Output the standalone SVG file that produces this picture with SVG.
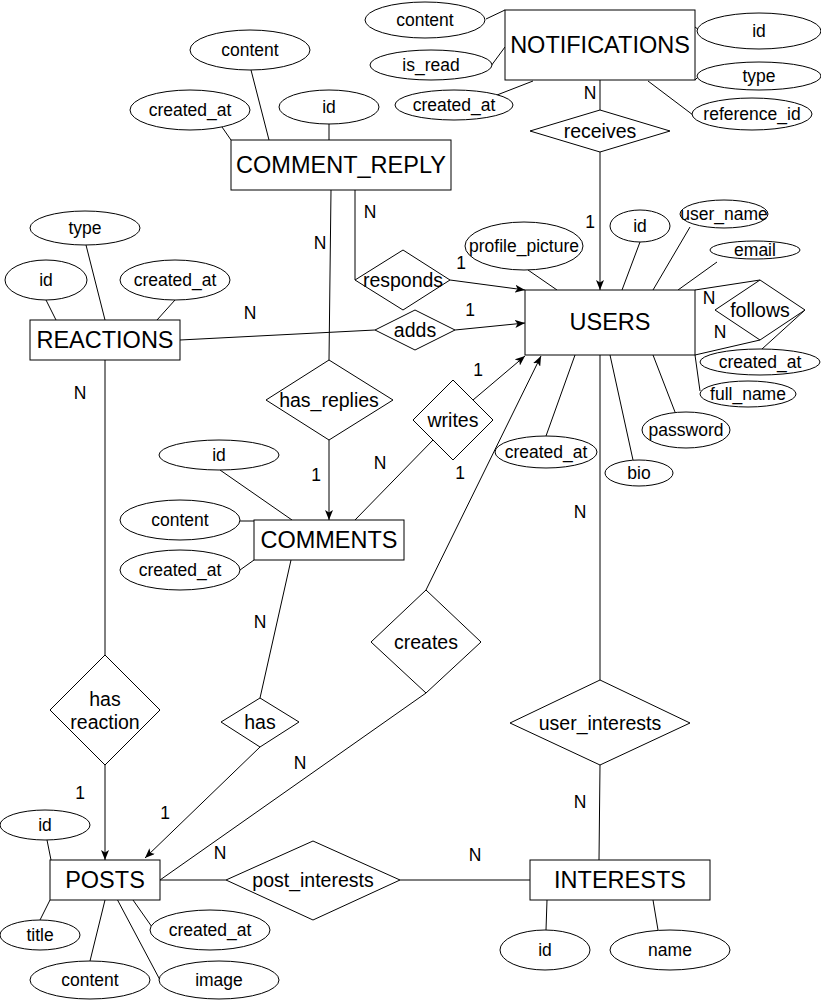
<svg xmlns="http://www.w3.org/2000/svg" width="821" height="1001" viewBox="0 0 821 1001">
<style>
text{font-family:"Liberation Sans",Arial,sans-serif;fill:#000;text-anchor:middle;dominant-baseline:central}
.ent rect{fill:#fff;stroke:#000;stroke-width:1}
.ent text{font-size:23.5px}
.att ellipse{fill:#fff;stroke:#000;stroke-width:1}
.att text{font-size:17.5px}
.rel polygon{fill:#fff;stroke:#000;stroke-width:1}
.rel text{font-size:19.5px}
#connectors line,#connectors polyline{stroke:#000;stroke-width:1;fill:none}
.arr{marker-end:url(#ah)}
.card{font-size:17.5px}
</style>
<defs>
<marker id="ah" markerUnits="userSpaceOnUse" markerWidth="10" markerHeight="8" viewBox="0 0 10 8" refX="10" refY="4" orient="auto">
<path d="M0,0 L10,4 L0,8 L2.5,4 z" fill="#000"/>
</marker>
</defs>
<rect width="821" height="1001" fill="#fff"/>

<g id="connectors">
<!-- notifications attrs -->
<line x1="486" y1="19" x2="505" y2="10"/>
<line x1="491" y1="66" x2="505" y2="47"/>
<line x1="497" y1="95" x2="533" y2="81"/>
<line x1="695" y1="27" x2="699" y2="30"/>
<line x1="695" y1="80" x2="699" y2="76"/>
<line x1="648" y1="81" x2="693" y2="115"/>
<!-- comment reply attrs -->
<line x1="251" y1="70" x2="269" y2="140"/>
<line x1="222" y1="127" x2="231" y2="140"/>
<line x1="329" y1="124" x2="329" y2="140"/>
<!-- users attrs -->
<line x1="528" y1="270" x2="557" y2="290"/>
<line x1="640" y1="242" x2="622" y2="290"/>
<line x1="690" y1="227" x2="653" y2="290"/>
<line x1="717" y1="262" x2="678" y2="290"/>
<line x1="675" y1="412" x2="653" y2="355"/>
<line x1="633" y1="460" x2="610" y2="355"/>
<line x1="546" y1="436" x2="575" y2="355"/>
<line x1="700" y1="391" x2="695" y2="355"/>
<line x1="805" y1="310" x2="762" y2="349"/>
<!-- follows -->
<line x1="695" y1="290" x2="760" y2="280"/>
<line x1="695" y1="355" x2="760" y2="340"/>
<!-- receives -->
<line x1="600" y1="80" x2="600" y2="110"/>
<line class="arr" x1="600" y1="152" x2="600" y2="290"/>
<!-- reactions attrs -->
<line x1="86" y1="245" x2="105" y2="320"/>
<line x1="46" y1="300" x2="56" y2="320"/>
<line x1="175" y1="300" x2="157" y2="320"/>
<!-- adds -->
<line x1="180" y1="340" x2="375" y2="330"/>
<line class="arr" x1="455" y1="330" x2="525" y2="323"/>
<!-- responds -->
<polyline points="355,190 355,280"/>
<line class="arr" x1="450" y1="280" x2="525" y2="290"/>
<!-- has_replies -->
<line x1="331" y1="190" x2="329" y2="360"/>
<line class="arr" x1="329" y1="440" x2="329" y2="520"/>
<!-- writes -->
<line x1="355" y1="520" x2="433" y2="440"/>
<line class="arr" x1="473" y1="400" x2="525" y2="356"/>
<!-- comments attrs -->
<line x1="220" y1="470" x2="292" y2="520"/>
<line x1="240" y1="521" x2="254" y2="521"/>
<line x1="240" y1="570" x2="254" y2="560"/>
<!-- has -->
<line x1="291" y1="560" x2="260" y2="698"/>
<line class="arr" x1="260" y1="747" x2="145" y2="858"/>
<!-- creates -->
<line class="arr" x1="426" y1="590" x2="541" y2="356"/>
<line x1="426" y1="693" x2="160" y2="880"/>
<!-- has reaction -->
<line x1="105" y1="360" x2="105" y2="655"/>
<line class="arr" x1="105" y1="765" x2="105" y2="860"/>
<!-- posts attrs -->
<line x1="47" y1="840" x2="51" y2="860"/>
<line x1="50" y1="900" x2="40" y2="920"/>
<line x1="105" y1="900" x2="90" y2="961"/>
<line x1="117" y1="899" x2="160" y2="980"/>
<line x1="133" y1="900" x2="152" y2="927"/>
<!-- post_interests -->
<line x1="160" y1="880" x2="226" y2="880"/>
<line x1="400" y1="880" x2="530" y2="880"/>
<!-- user_interests -->
<line x1="600" y1="355" x2="600" y2="680"/>
<line x1="600" y1="765" x2="599" y2="860"/>
<!-- interests attrs -->
<line x1="547" y1="900" x2="546" y2="930"/>
<line x1="653" y1="900" x2="658" y2="930"/>
</g>

<g id="cardinalities" class="card">
<text class="card" x="590" y="93">N</text>
<text class="card" x="590" y="222">1</text>
<text class="card" x="370" y="212">N</text>
<text class="card" x="320" y="243">N</text>
<text class="card" x="461" y="263">1</text>
<text class="card" x="470" y="310">1</text>
<text class="card" x="250" y="313">N</text>
<text class="card" x="709" y="298">N</text>
<text class="card" x="720" y="332">N</text>
<text class="card" x="478" y="370">1</text>
<text class="card" x="380" y="463">N</text>
<text class="card" x="460" y="473">1</text>
<text class="card" x="316" y="475">1</text>
<text class="card" x="80" y="393">N</text>
<text class="card" x="580" y="512">N</text>
<text class="card" x="260" y="622">N</text>
<text class="card" x="300" y="763">N</text>
<text class="card" x="80" y="793">1</text>
<text class="card" x="165" y="813">1</text>
<text class="card" x="580" y="802">N</text>
<text class="card" x="220" y="853">N</text>
<text class="card" x="475" y="855">N</text>
</g>

<!-- entities -->
<g id="notifications" class="ent"><rect x="505" y="10" width="190" height="70"/><text x="600" y="45">NOTIFICATIONS</text></g>
<g id="comment_reply" class="ent"><rect x="231" y="140" width="220" height="50"/><text x="341" y="165">COMMENT_REPLY</text></g>
<g id="users" class="ent"><rect x="525" y="290" width="170" height="65"/><text x="610" y="322">USERS</text></g>
<g id="reactions" class="ent"><rect x="30" y="320" width="150" height="40"/><text x="105" y="340">REACTIONS</text></g>
<g id="comments" class="ent"><rect x="254" y="520" width="150" height="40"/><text x="329" y="540">COMMENTS</text></g>
<g id="posts" class="ent"><rect x="50" y="860" width="110" height="40"/><text x="105" y="880">POSTS</text></g>
<g id="interests" class="ent"><rect x="530" y="860" width="180" height="40"/><text x="620" y="880">INTERESTS</text></g>

<!-- relationships -->
<g id="receives" class="rel"><polygon points="600,110 670,131 600,152 530,131"/><text x="600" y="131">receives</text></g>
<g id="follows" class="rel"><polygon points="760,280 805,310 760,340 715,310"/><text x="760" y="310">follows</text></g>
<g id="adds" class="rel"><polygon points="375,330 415,310 455,330 415,350"/><text x="415" y="330">adds</text></g>
<g id="responds" class="rel"><polygon points="355,280 403,250 450,280 403,310"/><text x="403" y="280">responds</text></g>
<g id="has_replies" class="rel"><polygon points="266,400 329,360 393,400 329,440"/><text x="329" y="400">has_replies</text></g>
<g id="writes" class="rel"><polygon points="413,420 453,380 493,420 453,460"/><text x="453" y="420">writes</text></g>
<g id="has" class="rel"><polygon points="221,722 260,698 299,722 260,747"/><text x="260" y="722">has</text></g>
<g id="creates" class="rel"><polygon points="371,642 426,590 481,642 426,693"/><text x="426" y="642">creates</text></g>
<g id="has_reaction" class="rel"><polygon points="50,710 105,655 160,710 105,765"/><text x="105" y="699">has</text><text x="105" y="722">reaction</text></g>
<g id="post_interests" class="rel"><polygon points="226,880 313,841 400,880 313,920"/><text x="313" y="880">post_interests</text></g>
<g id="user_interests" class="rel"><polygon points="510,723 600,680 690,723 600,765"/><text x="600" y="723">user_interests</text></g>

<!-- attributes -->
<g id="notif_content" class="att"><ellipse cx="425" cy="20" rx="60" ry="18"/><text x="425" y="20">content</text></g>
<g id="notif_is_read" class="att"><ellipse cx="431" cy="65" rx="61" ry="15"/><text x="431" y="65">is_read</text></g>
<g id="notif_created_at" class="att"><ellipse cx="454" cy="105" rx="59" ry="15"/><text x="454" y="105">created_at</text></g>
<g id="notif_id" class="att"><ellipse cx="759" cy="31" rx="62" ry="18"/><text x="759" y="31">id</text></g>
<g id="notif_type" class="att"><ellipse cx="759" cy="76" rx="62" ry="14"/><text x="759" y="76">type</text></g>
<g id="notif_reference_id" class="att"><ellipse cx="752" cy="114" rx="60" ry="16"/><text x="752" y="114">reference_id</text></g>

<g id="cr_content" class="att"><ellipse cx="250" cy="50" rx="60" ry="20"/><text x="250" y="50">content</text></g>
<g id="cr_created_at" class="att"><ellipse cx="190" cy="110" rx="60" ry="20"/><text x="190" y="110">created_at</text></g>
<g id="cr_id" class="att"><ellipse cx="329" cy="107" rx="50" ry="17"/><text x="329" y="107">id</text></g>

<g id="user_profile_picture" class="att"><ellipse cx="524" cy="246" rx="59" ry="24"/><text x="524" y="246">profile_picture</text></g>
<g id="user_id" class="att"><ellipse cx="640" cy="226" rx="30" ry="16"/><text x="640" y="226">id</text></g>
<g id="user_user_name" class="att"><ellipse cx="724" cy="214" rx="44" ry="14"/><text x="724" y="214">user_name</text></g>
<g id="user_email" class="att"><ellipse cx="755" cy="250" rx="45" ry="9"/><text x="755" y="250">email</text></g>
<g id="follows_created_at" class="att"><ellipse cx="760" cy="362" rx="60" ry="13"/><text x="760" y="362">created_at</text></g>
<g id="user_full_name" class="att"><ellipse cx="748" cy="394" rx="48" ry="13"/><text x="748" y="394">full_name</text></g>
<g id="user_password" class="att"><ellipse cx="686" cy="430" rx="44" ry="18"/><text x="686" y="430">password</text></g>
<g id="user_bio" class="att"><ellipse cx="639" cy="473" rx="34" ry="13"/><text x="639" y="473">bio</text></g>
<g id="user_created_at" class="att"><ellipse cx="546" cy="452" rx="51" ry="16"/><text x="546" y="452">created_at</text></g>

<g id="reaction_type" class="att"><ellipse cx="85" cy="228" rx="55" ry="17"/><text x="85" y="228">type</text></g>
<g id="reaction_id" class="att"><ellipse cx="46" cy="280" rx="41" ry="20"/><text x="46" y="280">id</text></g>
<g id="reaction_created_at" class="att"><ellipse cx="175" cy="280" rx="55" ry="20"/><text x="175" y="280">created_at</text></g>

<g id="comment_id" class="att"><ellipse cx="219" cy="455" rx="60" ry="15"/><text x="219" y="455">id</text></g>
<g id="comment_content" class="att"><ellipse cx="180" cy="520" rx="60" ry="20"/><text x="180" y="520">content</text></g>
<g id="comment_created_at" class="att"><ellipse cx="180" cy="570" rx="60" ry="20"/><text x="180" y="570">created_at</text></g>

<g id="post_id" class="att"><ellipse cx="45" cy="825" rx="45" ry="15"/><text x="45" y="825">id</text></g>
<g id="post_title" class="att"><ellipse cx="40" cy="935" rx="40" ry="15"/><text x="40" y="935">title</text></g>
<g id="post_content" class="att"><ellipse cx="90" cy="980" rx="60" ry="19"/><text x="90" y="980">content</text></g>
<g id="post_image" class="att"><ellipse cx="219" cy="980" rx="60" ry="19"/><text x="219" y="980">image</text></g>
<g id="post_created_at" class="att"><ellipse cx="210" cy="930" rx="60" ry="20"/><text x="210" y="930">created_at</text></g>

<g id="interest_id" class="att"><ellipse cx="545" cy="950" rx="45" ry="20"/><text x="545" y="950">id</text></g>
<g id="interest_name" class="att"><ellipse cx="670" cy="950" rx="60" ry="20"/><text x="670" y="950">name</text></g>
</svg>
